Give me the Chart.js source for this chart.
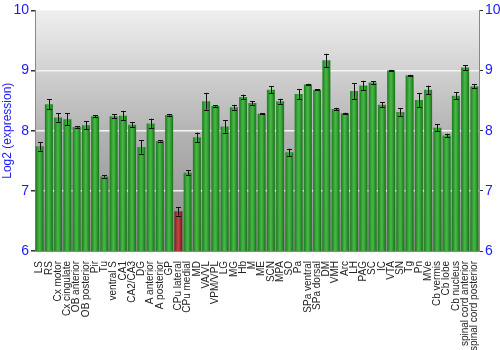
<!DOCTYPE html>
<html><head><meta charset="utf-8">
<script src="https://cdn.jsdelivr.net/npm/chart.js@4/dist/chart.umd.min.js"></script>
<style>html,body{margin:0;padding:0;background:#fff}#wrap{width:500px;height:350px}</style>
</head><body><div id="wrap"><canvas id="c" width="500" height="350"></canvas></div>
<script>
const categories = ["LS","RS","Cx motor","Cx cingulate","OB anterior","OB posterior","Pir","Tu","ventral S","CA1","CA2/CA3","DG","A anterior","A posterior","GP","CPu lateral","CPu medial","MD","VA/VL","VPM/VPL","LG","MG","Hb","M","ME","SCN","MPA","SO","Pa","SPa ventral","SPa dorsal","DM","VMH","Arc","LH","PAG","SC","IC","VTA","SN","Tg","Pn","MVe","Cb vermis","Cb lobe","Cb nucleus","spinal cord anterior","spinal cord posterior"];
const expression = [7.74,8.44,8.22,8.19,8.06,8.09,8.24,7.24,8.24,8.25,8.10,7.73,8.12,7.83,8.26,6.66,7.30,7.89,8.49,8.41,8.07,8.39,8.56,8.46,8.28,8.68,8.49,7.64,8.61,8.77,8.68,9.17,8.36,8.29,8.66,8.75,8.80,8.43,9.00,8.31,8.92,8.51,8.68,8.05,7.92,8.58,9.05,8.74];
const errors = [0.07,0.08,0.07,0.10,0.01,0.07,0.02,0.02,0.03,0.08,0.04,0.11,0.08,0.01,0.01,0.07,0.04,0.08,0.14,0.01,0.10,0.04,0.04,0.03,0.01,0.06,0.04,0.06,0.08,0.01,0.01,0.11,0.02,0.01,0.13,0.08,0.02,0.04,0.01,0.06,0.01,0.11,0.07,0.06,0.03,0.06,0.04,0.03];
const highlighted = ["CPu lateral"];
const yTicks = [6,7,8,9,10];

const BAR_PCT = 0.86;
function barFill(ctx){
  const chart = ctx.chart;
  const isRed = highlighted.includes(categories[ctx.dataIndex]);
  const base = isRed ? '#b03a3a' : '#3aa63a';
  const xs = chart.scales && chart.scales.x;
  if (!chart.chartArea || !xs || xs.width <= 0) return base;
  const cx = xs.getPixelForValue(ctx.dataIndex);
  const w = xs.width / categories.length * BAR_PCT;
  const g = chart.ctx.createLinearGradient(cx - w/2, 0, cx + w/2, 0);
  if (isRed) {
    g.addColorStop(0, '#7a1a1a'); g.addColorStop(0.45, '#c24848'); g.addColorStop(0.6, '#b83c3c'); g.addColorStop(1, '#6e1616');
  } else {
    g.addColorStop(0, '#1c7a1c'); g.addColorStop(0.45, '#46b846'); g.addColorStop(0.6, '#3cae3c'); g.addColorStop(1, '#1a6e1a');
  }
  return g;
}

const bgPlugin = {
  id: 'bg',
  beforeDraw(chart){
    const {ctx, chartArea:a} = chart;
    const g = ctx.createLinearGradient(0, a.top, 0, a.bottom);
    g.addColorStop(0, '#efefef');
    g.addColorStop(0.5, '#b4b4b4');
    g.addColorStop(1, '#8a8a8a');
    ctx.save(); ctx.fillStyle = g; ctx.fillRect(a.left, a.top, a.right - a.left, a.bottom - a.top); ctx.restore();
  }
};
const errPlugin = {
  id: 'err',
  afterDatasetsDraw(chart){
    const {ctx} = chart; const xs = chart.scales.x, ys = chart.scales.y;
    ctx.save(); ctx.strokeStyle = '#111'; ctx.lineWidth = 1;
    expression.forEach((v,i)=>{
      const x = Math.round(xs.getPixelForValue(i)) + 0.5;
      const y1 = ys.getPixelForValue(v + errors[i]);
      const y2 = ys.getPixelForValue(v - errors[i]);
      ctx.beginPath();
      ctx.moveTo(x, y1); ctx.lineTo(x, y2);
      ctx.moveTo(x-2.5, Math.round(y1)+0.5); ctx.lineTo(x+2.5, Math.round(y1)+0.5);
      ctx.moveTo(x-2.5, Math.round(y2)+0.5); ctx.lineTo(x+2.5, Math.round(y2)+0.5);
      ctx.stroke();
    });
    ctx.restore();
  }
};

const tickFont = {family: 'Liberation Sans', size: 14};
new Chart(document.getElementById('c'), {
  type: 'bar',
  data: { labels: categories, datasets: [{ data: expression, backgroundColor: barFill, barPercentage: BAR_PCT, categoryPercentage: 1.0, borderWidth: 0 }] },
  plugins: [bgPlugin, errPlugin],
  options: {
    responsive: false, animation: false,
    layout: { padding: {top: 10, right: 0, bottom: 0, left: 0} },
    plugins: { legend: {display: false}, tooltip: {enabled: false} },
    scales: {
      x: {
        grid: { display: false },
        border: { display: true, color: '#888' },
        ticks: { autoSkip: false, maxRotation: 90, minRotation: 90, color: '#222', padding: 2, font: {family: 'Liberation Sans', size: 10} },
        afterFit: s => { s.height = 99; }
      },
      y: {
        min: 6, max: 10,
        afterBuildTicks: s => { s.ticks = yTicks.map(v=>({value:v})); },
        grid: { color: c => (c.tick && (c.tick.value === 6 || c.tick.value === 10)) ? 'rgba(0,0,0,0)' : '#f4f4f4', lineWidth: 1.5, tickColor: '#333', tickLength: 4, drawTicks: true },
        border: { display: true, color: '#888' },
        ticks: { color: '#1a1aff', font: tickFont, padding: 2 },
        title: { display: true, text: 'Log2 (expression)', color: '#1a1aff', font: {family: 'Liberation Sans', size: 12}, padding: 0 },
        afterFit: s => { s.width = 35; }
      },
      y2: {
        position: 'right', min: 6, max: 10,
        afterBuildTicks: s => { s.ticks = yTicks.map(v=>({value:v})); },
        grid: { drawOnChartArea: false, tickColor: '#333', tickLength: 4 },
        border: { display: true, color: '#888' },
        ticks: { color: '#1a1aff', font: tickFont, padding: 2 },
        afterFit: s => { s.width = 21; }
      }
    }
  }
});
</script></body></html>
